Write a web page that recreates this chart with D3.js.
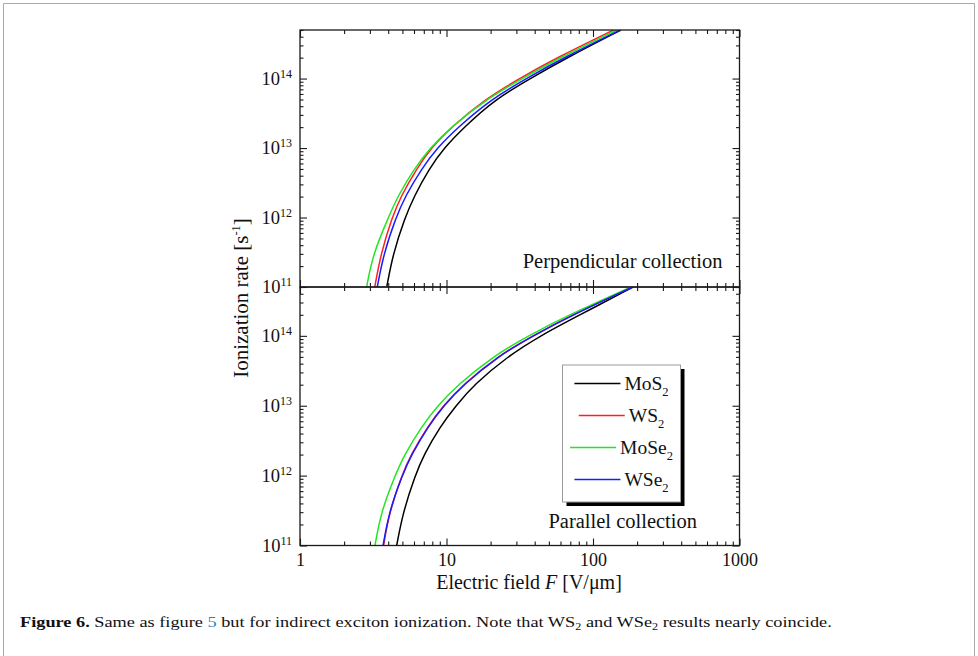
<!DOCTYPE html>
<html><head><meta charset="utf-8">
<script src="https://cdn.jsdelivr.net/npm/d3@7"></script>
<style>
body{margin:0;background:#fff}
svg{display:block}
text{font-family:"Liberation Serif","Times New Roman",serif;fill:#111}
</style>
</head><body>
<svg id="c" width="978" height="656"></svg>
<script>
// ---------- data ----------
const materials = ["MoS2", "WS2", "MoSe2", "WSe2"];
const materialBase = ["MoS", "WS", "MoSe", "WSe"];
const materialColors = ["#000000", "#ff1f1f", "#22e622", "#1a1aff"];
const panelNames = ["Perpendicular collection", "Parallel collection"];
const fieldDomain = [1, 1000];
const rateDomain = [1e11, 5e14];
// ionization rate levels [1/s] at which each curve's field is read
const rateLevels = [1e11, 3e11, 1e12, 2e12, 5e12, 1e13, 2e13, 5e13, 1e14, 2e14, 5e14];
// electric field [V/um] — perpendicular collection
const perpMoS2  = [3.91, 4.31, 5.21, 6.00, 7.59, 9.61, 13.2, 21.4, 37.2, 66.5, 155];
const perpWS2   = [3.24, 3.56, 4.25, 4.87, 6.24, 7.84, 10.8, 18.2, 31.3, 56.8, 138];
const perpMoSe2 = [2.85, 3.15, 4.01, 4.63, 6.00, 7.72, 10.7, 18.6, 32.8, 59.5, 145];
const perpWSe2  = [3.37, 3.72, 4.52, 5.21, 6.75, 8.61, 12.0, 20.1, 34.9, 63.4, 153];
// electric field [V/um] — parallel collection
const parMoS2  = [4.57, 5.05, 6.10, 7.02, 9.03, 11.6, 15.4, 25.9, 43.5, 81.5, 188];
const parWS2   = [3.72, 4.07, 4.95, 5.72, 7.42, 9.47, 13.0, 22.0, 38.6, 72.4, 185];
const parMoSe2 = [3.25, 3.57, 4.45, 5.17, 6.75, 8.68, 12.0, 20.5, 36.0, 68.6, 182];
const parWSe2  = [3.69, 4.05, 4.97, 5.77, 7.48, 9.54, 13.1, 22.1, 38.9, 73.0, 186];

const panelData = [
  [perpMoS2, perpWS2, perpMoSe2, perpWSe2],
  [parMoS2, parWS2, parMoSe2, parWSe2]
];

// ---------- layout ----------
const svg = d3.select("#c");
const left = 300, right = 739.5;
const panelY = [[30, 287], [287, 545.5]];
const axisColor = "#1a1a1a";

svg.append("path")
  .attr("d", "M3.5,660 V3.5 H974.5 V660")
  .attr("fill", "none").attr("stroke", "#a8a8a8").attr("stroke-width", 1);

const x = d3.scaleLog().domain(fieldDomain).range([left, right]);
const isMajor = v => Math.abs(Math.log10(v) - Math.round(Math.log10(v))) < 1e-9;
const xAll = x.ticks();
const xMaj = xAll.filter(isMajor);
const xMin = xAll.filter(v => !isMajor(v));

function styleAxis(g) {
  g.select(".domain").remove();
  g.selectAll("line").attr("stroke", axisColor).attr("stroke-width", 1.1);
  g.attr("font-family", null).attr("font-size", null);
}

panelData.forEach((series, pi) => {
  const [y0, y1] = panelY[pi];
  const y = d3.scaleLog().domain(rateDomain).range([y1, y0]);
  const yAll = y.ticks();
  const yMaj = yAll.filter(isMajor);
  const yMin = yAll.filter(v => !isMajor(v));

  const clipId = "clip" + pi;
  svg.append("clipPath").attr("id", clipId)
    .append("rect").attr("x", left).attr("y", y0).attr("width", right - left).attr("height", y1 - y0);

  // curves
  const line = d3.line().x(d => x(d[0])).y(d => y(d[1])).curve(d3.curveBasis);
  const gc = svg.append("g").attr("clip-path", `url(#${clipId})`);
  series.forEach((F, si) => {
    gc.append("path")
      .datum(F.map((f, i) => [f, rateLevels[i]]))
      .attr("d", line)
      .attr("fill", "none")
      .attr("stroke", materialColors[si])
      .attr("stroke-width", 1.5);
  });

  // axes: majors & minors on all four sides, pointing inward
  const addX = (pos, yy, vals, size) => {
    const ax = (pos === "top" ? d3.axisTop(x) : d3.axisBottom(x)).tickValues(vals).tickSize(-size).tickFormat("");
    svg.append("g").attr("transform", `translate(0,${yy})`).call(ax).call(styleAxis);
  };
  addX("top", y0, xMaj, 7); addX("top", y0, xMin, 4);
  addX("bottom", y1, xMin, 4);
  if (pi === 1) {
    const ax = d3.axisBottom(x).tickValues(xMaj).tickSize(-7).tickPadding(8).tickFormat(d3.format("d"));
    svg.append("g").attr("transform", `translate(0,${y1})`).call(ax).call(styleAxis)
      .attr("font-size", 18).selectAll("text").attr("fill", "#111");
  } else {
    addX("bottom", y1, xMaj, 7);
  }

  const gl = svg.append("g").attr("transform", `translate(${left},0)`)
    .call(d3.axisLeft(y).tickValues(yMaj).tickSize(-7).tickPadding(8).tickFormat(""))
    .call(styleAxis).attr("font-size", 18.5);
  gl.selectAll(".tick text").each(function(d) {
    const t = d3.select(this);
    if (pi === 1 && Math.abs(y(d) - y0) < 1) return;
    t.attr("fill", "#111");
    t.append("tspan").text("10");
    t.append("tspan").attr("dy", "-0.6em").attr("font-size", 12).text(Math.round(Math.log10(d)));
  });
  svg.append("g").attr("transform", `translate(${left},0)`)
    .call(d3.axisLeft(y).tickValues(yMin).tickSize(-3.5).tickFormat("")).call(styleAxis);
  svg.append("g").attr("transform", `translate(${right},0)`)
    .call(d3.axisRight(y).tickValues(yMaj).tickSize(-7).tickFormat("")).call(styleAxis);
  svg.append("g").attr("transform", `translate(${right},0)`)
    .call(d3.axisRight(y).tickValues(yMin).tickSize(-3.5).tickFormat("")).call(styleAxis);

  // frame
  svg.append("rect").attr("x", left).attr("y", y0).attr("width", right - left).attr("height", y1 - y0)
    .attr("fill", "none").attr("stroke", axisColor).attr("stroke-width", 1.3);
});

// panel labels
svg.append("text").attr("x", 722.5).attr("y", 268).attr("text-anchor", "end")
  .attr("font-size", 20.5).text(panelNames[0]);
svg.append("text").attr("x", 697).attr("y", 528).attr("text-anchor", "end")
  .attr("font-size", 20.5).text(panelNames[1]);

// legend
const lg = svg.append("g");
const lb = {x: 562.5, y: 365, w: 118, h: 137};
lg.append("rect").attr("x", lb.x + 4).attr("y", lb.y + 4).attr("width", lb.w).attr("height", lb.h).attr("fill", "#000");
lg.append("rect").attr("x", lb.x).attr("y", lb.y).attr("width", lb.w).attr("height", lb.h)
  .attr("fill", "#fff").attr("stroke", "#9a9a9a").attr("stroke-width", 1);
const entryY = d3.scalePoint().domain(materials).range([lb.y + 18.5, lb.y + 114.5]);
materials.forEach((m, i) => {
  const gy = entryY(m);
  const eg = lg.append("g");
  const t = eg.append("text").attr("font-size", 19.5).attr("y", gy + 6);
  t.append("tspan").text(materialBase[i]);
  t.append("tspan").attr("font-size", 12.5).attr("dy", 6).text("2");
  const tw = t.node().getComputedTextLength();
  const lineLen = 46, gap = 4;
  const total = lineLen + gap + tw;
  const sx = lb.x + lb.w / 2 - total / 2;
  eg.append("line").attr("x1", sx).attr("x2", sx + lineLen).attr("y1", gy).attr("y2", gy)
    .attr("stroke", materialColors[i]).attr("stroke-width", 1.5);
  t.attr("x", sx + lineLen + gap);
});

// axis titles
const xt = svg.append("text").attr("x", 529).attr("y", 589).attr("text-anchor", "middle").attr("font-size", 20);
xt.append("tspan").text("Electric field ");
xt.append("tspan").attr("font-style", "italic").text("F");
xt.append("tspan").text(" [V/\u03bcm]");

const yt = svg.append("text").attr("transform", "translate(248,298) rotate(-90)")
  .attr("text-anchor", "middle").attr("font-size", 21);
yt.append("tspan").text("Ionization rate [s");
yt.append("tspan").attr("font-size", 12.5).attr("dy", -8).text("-1");
yt.append("tspan").attr("dy", 8).text("]");

// caption
const cap = svg.append("text").attr("x", 20).attr("y", 627).attr("font-size", 15);
cap.append("tspan").attr("font-weight", "bold").text("Figure 6.");
cap.append("tspan").text(" Same as figure ");
cap.append("tspan").attr("fill", "#2a7fc0").text("5");
cap.append("tspan").text(" but for indirect exciton ionization. Note that WS");
cap.append("tspan").attr("font-size", 10).attr("dy", 3).text("2");
cap.append("tspan").attr("dy", -3).text(" and WSe");
cap.append("tspan").attr("font-size", 10).attr("dy", 3).text("2");
cap.append("tspan").attr("dy", -3).text(" results nearly coincide.");
const cw = cap.node().getComputedTextLength();
cap.attr("transform", `translate(20,0) scale(${812 / cw},1) translate(-20,0)`);
</script>
</body></html>
